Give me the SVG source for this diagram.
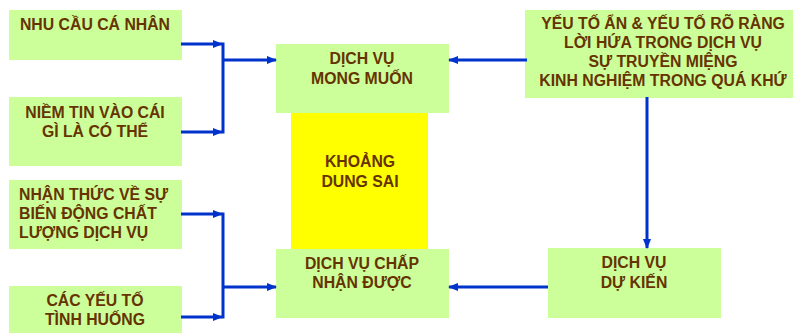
<svg xmlns="http://www.w3.org/2000/svg" width="793" height="333" viewBox="0 0 793 333">
<style>
.box{fill:#CCFF99;}
.tol{fill:#FFFF00;}
text{font-family:"Liberation Sans",Arial,sans-serif;font-weight:bold;font-size:15.8px;fill:#663300;}
.c{text-anchor:middle;}
.ln{stroke:#0033CC;stroke-width:3;fill:none;}
</style>
<defs>
<marker id="ah" viewBox="0 0 10 10" refX="9" refY="5" markerWidth="3.5" markerHeight="3.5" orient="auto" markerUnits="strokeWidth">
<path d="M0,1 L10,5 L0,9 z" fill="#0033CC"/>
</marker>
</defs>
<g id="n1"><rect class="box" x="9" y="10" width="173" height="50"/><text class="c" x="95" y="30">NHU CẦU CÁ NHÂN</text></g>
<g id="n2"><rect class="box" x="9" y="97" width="173" height="69"/><text class="c" x="95" y="118">NIỀM TIN VÀO CÁI</text><text class="c" x="95" y="137">GÌ LÀ CÓ THỂ</text></g>
<g id="n3"><rect class="box" x="9" y="180" width="173" height="69"/><text x="19" y="200">NHẬN THỨC VỀ SỰ</text><text x="19" y="219">BIẾN ĐỘNG CHẤT</text><text x="19" y="238">LƯỢNG DỊCH VỤ</text></g>
<g id="n4"><rect class="box" x="9" y="286" width="173" height="47"/><text class="c" x="95" y="306">CÁC YẾU TỐ</text><text class="c" x="95" y="325">TÌNH HUỐNG</text></g>
<g id="n5"><rect class="tol" x="291" y="113" width="137" height="136"/><text class="c" x="360" y="167">KHOẢNG</text><text class="c" x="360" y="187">DUNG SAI</text></g>
<g id="n6"><rect class="box" x="276" y="44" width="173" height="69"/><text class="c" x="362" y="64">DỊCH VỤ</text><text class="c" x="362" y="84">MONG MUỐN</text></g>
<g id="n7"><rect class="box" x="276" y="249" width="173" height="69"/><text class="c" x="362" y="269">DỊCH VỤ CHẤP</text><text class="c" x="362" y="288">NHẬN ĐƯỢC</text></g>
<g id="n8"><rect class="box" x="525" y="10" width="268" height="88"/><text class="c" x="663" y="29">YẾU TỐ ẨN &amp; YẾU TỐ RÕ RÀNG</text><text class="c" x="663" y="48">LỜI HỨA TRONG DỊCH VỤ</text><text class="c" x="663" y="67">SỰ TRUYỀN MIỆNG</text><text class="c" x="663" y="86">KINH NGHIỆM TRONG QUÁ KHỨ</text></g>
<g id="n9"><rect class="box" x="548" y="248" width="173" height="70"/><text class="c" x="634" y="268">DỊCH VỤ</text><text class="c" x="634" y="288">DỰ KIẾN</text></g>
<g id="connectors">
<path class="ln" d="M181,44 H222" marker-end="url(#ah)"/>
<path class="ln" d="M181,132 H222" marker-end="url(#ah)"/>
<path class="ln" d="M223,42.5 V133.5"/>
<path class="ln" d="M223,60 H276" marker-end="url(#ah)"/>
<path class="ln" d="M181,214 H222" marker-end="url(#ah)"/>
<path class="ln" d="M181,317 H222" marker-end="url(#ah)"/>
<path class="ln" d="M223,212.5 V318.5"/>
<path class="ln" d="M223,287 H276" marker-end="url(#ah)"/>
<path class="ln" d="M527,60 H449" marker-end="url(#ah)"/>
<path class="ln" d="M548,287 H449" marker-end="url(#ah)"/>
<path class="ln" d="M647,97 V248" marker-end="url(#ah)"/>
</g>
</svg>
